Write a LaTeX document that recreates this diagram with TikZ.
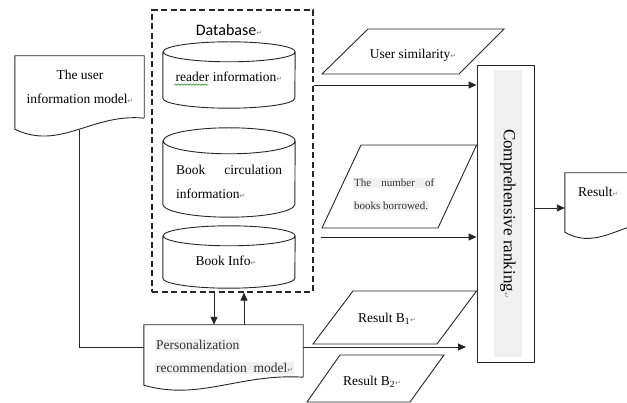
\documentclass[tikz,border=0pt]{standalone}
\usepackage{fontspec}
\setmainfont{Liberation Serif}
\newfontfamily\dbfont{Carlito}
\newfontfamily\markfont{DejaVu Sans}
\usetikzlibrary{arrows.meta,calc,decorations.pathmorphing}

% small grey return mark after a paragraph
\newcommand{\pmark}{{\markfont\fontsize{7}{7}\selectfont\color{black!50}↵}}

% document outline: node, width, drop of the left corner
\newcommand{\docout}[3]{%
  \draw[ln] (#1.south east) -- (#1.north east) -- (#1.north west) -- ([yshift=-#3pt]#1.south west)
    .. controls +({0.35*#2},{2*#3}) and +({-0.4*#2},{-0.5*#3}) .. (#1.south east);}

% cylinder outline: node, y radius
\newcommand{\cylout}[2]{%
  \draw[ln] ([yshift=-#2pt]#1.north west) -- ([yshift=#2pt]#1.south west)
    arc[start angle=180,end angle=360,x radius=66pt,y radius=#2pt]
    -- ([yshift=-#2pt]#1.north east)
    arc[start angle=0,end angle=360,x radius=66pt,y radius=#2pt];}

\begin{document}
\begin{tikzpicture}[x=1pt,y=-1pt,
  ln/.style={draw=black!85,line width=0.9pt},
  arr/.style={ln,-{Triangle[length=8pt,width=7pt]}},
  txt/.style={font=\fontsize{13.5}{24}\selectfont,inner sep=1pt},
  hl/.style={fill=black!6,text=black!80},
  docbox/.style={rectangle,inner sep=0pt},
  cylbox/.style={rectangle,inner sep=0pt,minimum width=132pt}]
\useasboundingbox (0,0) rectangle (627,403);
\clip (0,0) rectangle (627,403);

% database frame
\node[draw=black!85,line width=1.1pt,dash pattern=on 6pt off 3.5pt,minimum width=161pt,minimum height=282pt] (db) at (232.5,151) {};
\node[font=\dbfont\fontsize{16}{16}\selectfont] (dblbl) at (229,30) {Database\pmark};

\node[cylbox,minimum height=66pt] (rdr) at (229,75) {};
\cylout{rdr}{10}
\node[txt] (rdrtxt) at (229,77) {reader information\pmark};
\draw[green!55!black,line width=0.5pt,decorate,decoration={snake,amplitude=0.7pt,segment length=3pt}]
  ([yshift=-3pt]rdrtxt.base west) -- ++(34,0);

\node[cylbox,minimum height=89pt] (circ) at (229,172.5) {};
\cylout{circ}{13}
\node[txt,text width=106pt,align=left] (circtxt) at (229,182) {Book\hfill circulation\\information\pmark};

\node[cylbox,minimum height=62pt] (binfo) at (229,257) {};
\cylout{binfo}{10}
\node[txt] (binfotxt) at (226,261) {Book Info\pmark};

% user model
\node[docbox,minimum width=129pt,minimum height=62pt] (usr) at (79.5,87) {};
\docout{usr}{129}{11}
\node[txt,align=center] (usrtxt) at (80,87) {The user\\information model\pmark};
\coordinate (usrb) at (79,130);

% recommendation model
\node[docbox,minimum width=159pt,minimum height=52pt] (pers) at (223.5,351) {};
\docout{pers}{159}{8}
\node[txt,hl,anchor=west] (pers1) at (155,345) {Personalization};
\node[txt,hl,anchor=west] (pers2) at (155,368) {recommendation\ \ model\pmark};

% ranking
\node[ln,minimum width=57pt,minimum height=297pt] (rank) at (505.5,213.5) {};
\node[fill=black!6,rotate=-90,minimum width=287pt,minimum height=28pt,font=\fontsize{17}{17}\selectfont] (ranktxt) at (508,213.5) {Comprehensive ranking\pmark};

\node[docbox,minimum width=100pt,minimum height=49pt] (res) at (615,197.5) {};
\docout{res}{100}{10}
\node[txt,anchor=west] (restxt) at (577,192) {Result\pmark};

% data
\draw[ln] (368,29) -- (504,29) -- (459,74) -- (322,74) -- cycle;
\node[txt] (sim) at (413,55) {User similarity\pmark};

\draw[ln] (rank.west |- 0,145) -- (361,145) -- (322,228) -- (438,228) -- cycle;
\node[txt,hl,font=\fontsize{11}{11}\selectfont,text width=80pt,align=left,anchor=west] (nbr1) at (353,183) {The\hfill number\hfill of};
\node[txt,hl,font=\fontsize{11}{11}\selectfont,anchor=west] (nbr2) at (353,206) {books borrowed.};

\draw[ln] (rank.west |- 0,291) -- (353,291) -- (313,344) -- (437,344) -- cycle;
\node[txt] (rb1) at (387,319) {Result B\textsubscript{1}\pmark};

\draw[ln] (340,355) -- (444,355) -- (410,402) -- (307,402) -- cycle;
\node[txt] (rb2) at (372,382) {Result B\textsubscript{2}\pmark};

% connectors
\draw[arr] (db.east |- 0,85) -- (rank.west |- 0,85);
\coordinate (cntb) at (321,237);
\draw[arr] (cntb) -- (rank.west |- cntb);
\coordinate (b1end) at (466,347);
\draw[arr] (pers.east |- b1end) -- (b1end);
\draw[ln] (usrb) |- (pers.west |- b1end);
\draw[arr] (rank.east |- 0,208) -- (res.west |- 0,208);
\draw[arr] (db.south -| 214,0) -- (pers.north -| 214,0);
\draw[arr] (pers.north -| 244,0) -- (db.south -| 244,0);
\end{tikzpicture}
\end{document}
